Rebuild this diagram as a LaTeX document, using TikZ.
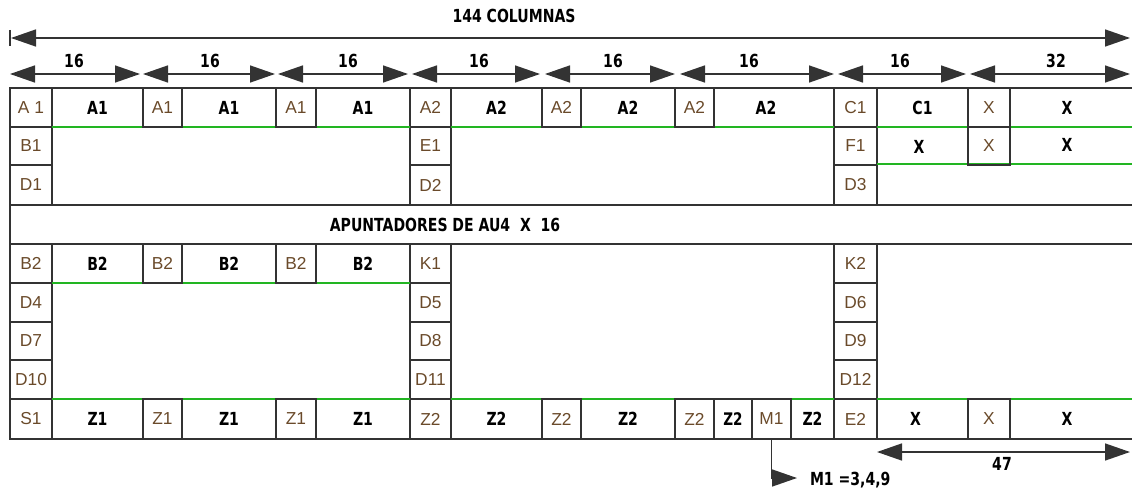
\documentclass[tikz,border=0pt]{standalone}
\usepackage{fontspec}
\setmainfont{Liberation Sans}
\newfontfamily\heavy{DejaVu Sans}
\usetikzlibrary{arrows.meta}
\definecolor{linec}{HTML}{333333}
\definecolor{labc}{HTML}{6A4A2A}
\definecolor{grn}{HTML}{22B522}
\newcommand\B[1]{\scalebox{0.78}[1]{\heavy\bfseries #1}}
\newcommand\Cell[7][]{\node[#1, minimum width={(#5)*0.75pt}, minimum height={(#6)*0.75pt}] (#2) at ({(#3)+(#5)/2},{(#4)+(#6)/2}) {#7};}
\begin{document}
\begin{tikzpicture}[x=0.75pt,y=-0.75pt, line width=1.1pt,
  base/.style={inner sep=0pt, outer sep=0pt},
  labcell/.style={base, draw=linec, text=labc, font=\fontsize{13}{15}\selectfont},
  boxcell/.style={labcell},
  datcell/.style={base, text=black, font=\fontsize{13.5}{15}\selectfont},
  dim/.style={draw=linec, {Triangle[length=18.75pt,width=12.75pt]}-{Triangle[length=18.75pt,width=12.75pt]}},
  frame/.style={draw=linec},
  gline/.style={draw=grn}]
\useasboundingbox (0,0) rectangle (1132,492);
% ---- upper label cells
\Cell[labcell]{la1}{10}{88}{42}{39}{A 1}
\Cell[labcell]{lb1}{10}{127}{42}{38}{B1}
\Cell[labcell]{ld1}{10}{165}{42}{40}{D1}
\Cell[labcell]{la2}{410}{88}{41}{39}{A2}
\Cell[labcell]{le1}{410}{127}{41}{38}{E1}
\Cell[labcell]{ld2}{410}{165}{41}{40}{D2}
\Cell[labcell]{lc1}{834}{88}{43}{39}{C1}
\Cell[labcell]{lf1}{834}{127}{43}{38}{F1}
\Cell[labcell]{ld3}{834}{165}{43}{40}{D3}
% ---- row 1 data
\Cell[datcell]{r1d1}{52}{88}{91}{39}{\B{A1}}
\Cell[datcell]{r1d2}{182}{88}{94}{39}{\B{A1}}
\Cell[datcell]{r1d3}{316}{88}{94}{39}{\B{A1}}
\Cell[datcell]{r1d4}{451}{88}{91}{39}{\B{A2}}
\Cell[datcell]{r1d5}{581}{88}{94}{39}{\B{A2}}
\Cell[datcell]{r1d6}{714}{88}{104}{39}{\B{A2}}
\Cell[datcell]{r1d7}{877}{88}{91}{39}{\B{C1}}
\Cell[datcell]{r1d8}{1010}{88}{114}{39}{\B{X}}
\Cell[datcell]{r2d1}{877}{127}{84}{40}{\B{X}}
\Cell[datcell]{r2d2}{1010}{127}{114}{36}{\B{X}}
\draw[gline] (r1d1.south west) -- (r1d3.south east);
\draw[gline] (r1d4.south west) -- (834,127);
\draw[gline] (r1d7.south west) -- (1132,127);
\draw[gline] (877,164) -- (1132,164);
\Cell[boxcell]{r1b1}{143}{88}{39}{39}{A1}
\Cell[boxcell]{r1b2}{276}{88}{40}{39}{A1}
\Cell[boxcell]{r1b3}{542}{88}{39}{39}{A2}
\Cell[boxcell]{r1b4}{675}{88}{39}{39}{A2}
\Cell[boxcell]{r1b5}{968}{88}{42}{39}{X}
\Cell[boxcell]{r2b1}{968}{127}{42}{38}{X}
% ---- middle row
\node[datcell] (apu) at (445,225) {\B{APUNTADORES DE AU4 \ X \ 16}};
% ---- lower label cells
\Cell[labcell]{lb2}{10}{244}{42}{39}{B2}
\Cell[labcell]{ld4}{10}{283}{42}{39}{D4}
\Cell[labcell]{ld7}{10}{322}{42}{38}{D7}
\Cell[labcell]{ld10}{10}{360}{42}{39}{D10}
\Cell[labcell]{ls1}{10}{399}{42}{40}{S1}
\Cell[labcell]{lk1}{410}{244}{41}{39}{K1}
\Cell[labcell]{ld5}{410}{283}{41}{39}{D5}
\Cell[labcell]{ld8}{410}{322}{41}{38}{D8}
\Cell[labcell]{ld11}{410}{360}{41}{39}{D11}
\Cell[labcell]{lz2}{410}{399}{41}{40}{Z2}
\Cell[labcell]{lk2}{834}{244}{43}{39}{K2}
\Cell[labcell]{ld6}{834}{283}{43}{39}{D6}
\Cell[labcell]{ld9}{834}{322}{43}{38}{D9}
\Cell[labcell]{ld12}{834}{360}{43}{39}{D12}
\Cell[labcell]{le2}{834}{399}{43}{40}{E2}
% ---- row B2
\Cell[datcell]{r5d1}{52}{244}{91}{39}{\B{B2}}
\Cell[datcell]{r5d2}{182}{244}{94}{39}{\B{B2}}
\Cell[datcell]{r5d3}{316}{244}{94}{39}{\B{B2}}
\draw[gline] (r5d1.south west) -- (r5d3.south east);
\Cell[boxcell]{r5b1}{143}{244}{39}{39}{B2}
\Cell[boxcell]{r5b2}{276}{244}{40}{39}{B2}
% ---- row S1
\Cell[datcell]{s1d1}{52}{399}{91}{40}{\B{Z1}}
\Cell[datcell]{s1d2}{182}{399}{94}{40}{\B{Z1}}
\Cell[datcell]{s1d3}{316}{399}{94}{40}{\B{Z1}}
\Cell[datcell]{s1d4}{451}{399}{91}{40}{\B{Z2}}
\Cell[datcell]{s1d5}{581}{399}{94}{40}{\B{Z2}}
\Cell[datcell]{s1d6}{791}{399}{43}{40}{\B{Z2}}
\Cell[datcell]{s1d7}{877}{399}{77}{40}{\B{X}}
\Cell[datcell]{s1d8}{1010}{399}{114}{40}{\B{X}}
\draw[gline] (s1d1.north west) -- (s1d3.north east);
\draw[gline] (s1d4.north west) -- (s1d6.north east);
\draw[gline] (s1d7.north west) -- (1132,399);
\Cell[boxcell]{s1b1}{143}{399}{39}{40}{Z1}
\Cell[boxcell]{s1b2}{276}{399}{40}{40}{Z1}
\Cell[boxcell]{s1b3}{542}{399}{39}{40}{Z2}
\Cell[boxcell]{s1b4}{675}{399}{39}{40}{Z2}
\Cell[boxcell, text=black]{s1b5}{714}{399}{38}{40}{\B{Z2}}
\Cell[boxcell]{m1}{752}{399}{39}{40}{M1}
\Cell[boxcell]{s1b6}{968}{399}{42}{40}{X}
% ---- frame
\draw[frame] (10,88) -- (1132,88);
\draw[frame] (10,205) -- (1132,205);
\draw[frame] (10,244) -- (1132,244);
\draw[frame] (10,439) -- (1132,439);
\draw[frame] (10,88) -- (10,439);
% ---- dimension lines
\coordinate (tk0) at (10,30);
\coordinate (tk1) at (10,46);
\draw[frame] (tk0) -- (tk1);
\coordinate (t0) at (11,38);
\coordinate (t1) at (1130,38);
\draw[dim] (t0) -- (t1);
\node[datcell] (tot) at (514,16) {\B{144 COLUMNAS}};
\foreach \a/\b/\c/\t [count=\i] in {10/140/74/16, 143/275/210/16, 278/408/348/16, 412/540/479/16, 545/675/613/16, 680/834/749/16, 838/966/900/16, 970/1130/1056/32}{
  \coordinate (da\i) at (\a,74);
  \coordinate (db\i) at (\b,74);
  \draw[dim] (da\i) -- (db\i);
  \node[datcell] (dl\i) at (\c,61) {\B{\t}};
}
\coordinate (e0) at (877,452);
\coordinate (e1) at (1130,452);
\draw[dim] (e0) -- (e1);
\node[datcell] (l47) at (1002,464) {\B{47}};
\coordinate (mt) at (797,478);
\draw[draw=linec, -{Triangle[length=18.75pt,width=12.75pt]}] (m1.south) |- (mt);
\node[datcell, anchor=west] (mlab) at (810,480) {\B{M1 =3,4,9}};
\end{tikzpicture}
\end{document}
